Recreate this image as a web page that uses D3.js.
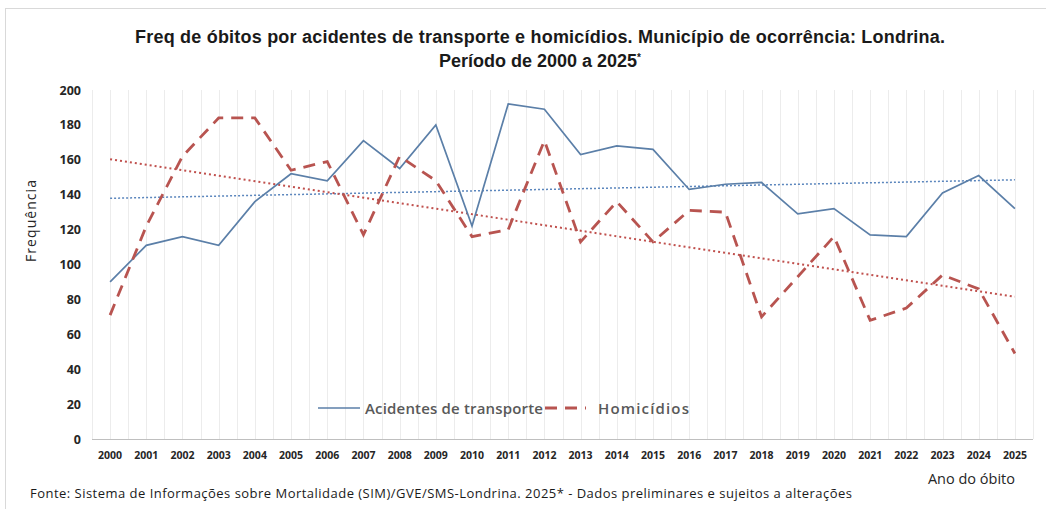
<!DOCTYPE html>
<html><head><meta charset="utf-8">
<script src="https://cdn.jsdelivr.net/npm/d3@7"></script>
<style>
body{margin:0;background:#fff;}
svg{display:block;}
</style></head>
<body>
<svg id="c" width="1046" height="509"></svg>
<script>
const years = ["2000","2001","2002","2003","2004","2005","2006","2007","2008","2009","2010","2011","2012","2013","2014","2015","2016","2017","2018","2019","2020","2021","2022","2023","2024","2025"];
const acidentes = [90,111,116,111,136,152,148,171,155,180,122,192,189,163,168,166,143,146,147,129,132,117,116,141,151,132];
const homicidios = [71,122,162,184,184,154,159,117,162,148,116,120,171,113,136,113,131,130,70,93,116,68,75,94,86,49];
const yTicks = [0,20,40,60,80,100,120,140,160,180,200];
const seriesNames = ["Acidentes de transporte","Homicídios"];

const svg = d3.select("#c");
const W = 1046, H = 509;
const m = {l:92, r:1033, t:90, b:439};
const font = "'Liberation Sans Narrow','Liberation Sans',Arial,sans-serif";
const font2 = "'Open Sans','Noto Sans',sans-serif";

// chart border
svg.append("rect").attr("x",5.5).attr("y",8.5).attr("width",W+10).attr("height",H+10)
  .attr("fill","none").attr("stroke","#d9d9d9").attr("stroke-width",1);

const x = d3.scaleBand().domain(years).range([m.l,m.r]);
const y = d3.scaleLinear().domain([0,200]).range([m.b,m.t]);
const cx = d => x(d)+x.bandwidth()/2;

// vertical gridlines (edges and centers)
const gx = [];
years.forEach(yr=>{gx.push(x(yr)); gx.push(cx(yr));});
gx.push(m.r);
svg.append("g").selectAll("line").data(gx).join("line")
  .attr("x1",d=>Math.round(d)+0.5).attr("x2",d=>Math.round(d)+0.5)
  .attr("y1",m.t).attr("y2",m.b)
  .attr("stroke","#ececec").attr("stroke-width",1);

// x axis line
svg.append("line").attr("x1",m.l).attr("x2",m.r).attr("y1",m.b+0.5).attr("y2",m.b+0.5)
  .attr("stroke","#bfbfbf");

// y ticks
const yAxis = d3.axisLeft(y).tickValues(yTicks).tickSize(0).tickPadding(0);
const ga = svg.append("g").attr("transform",`translate(81,0)`).call(yAxis);
ga.select(".domain").remove();
ga.selectAll("text").attr("font-family",font2).attr("font-weight","bold").attr("font-size",12.5).attr("fill","#262626");

// x ticks
const xAxis = d3.axisBottom(x).tickSize(0).tickPadding(0);
const gb = svg.append("g").attr("transform",`translate(0,452)`).call(xAxis);
gb.select(".domain").remove();
gb.selectAll("text").attr("font-family",font2).attr("font-weight","bold").attr("font-size",10.5).attr("fill","#262626");

// trend lines (least squares)
function trend(vals){
  const n=vals.length; const xs=d3.range(n);
  const mx=d3.mean(xs), my=d3.mean(vals);
  let sxy=0,sxx=0; xs.forEach((xi,i)=>{sxy+=(xi-mx)*(vals[i]-my);sxx+=(xi-mx)*(xi-mx);});
  const b=sxy/sxx, a=my-b*mx;
  return [a, a+b*(n-1)];
}
const line = d3.line().x((d,i)=>cx(years[i])).y(d=>y(d));

const tA = trend(acidentes), tH = trend(homicidios);
svg.append("line").attr("x1",cx(years[0])).attr("x2",cx(years[years.length-1]))
  .attr("y1",y(tA[0])).attr("y2",y(tA[1]))
  .attr("stroke","#5b86bd").attr("stroke-width",1.5).attr("stroke-dasharray","2,2");
svg.append("line").attr("x1",cx(years[0])).attr("x2",cx(years[years.length-1]))
  .attr("y1",y(tH[0])).attr("y2",y(tH[1]))
  .attr("stroke","#c0504d").attr("stroke-width",2).attr("stroke-dasharray","2,3");

svg.append("path").datum(acidentes).attr("d",line).attr("fill","none")
  .attr("stroke","#5b7fa8").attr("stroke-width",1.7);
svg.append("path").datum(homicidios).attr("d",line).attr("fill","none")
  .attr("stroke","#b85450").attr("stroke-width",2.8).attr("stroke-dasharray","12,8");

// legend
const lg = svg.append("g");
lg.append("line").attr("x1",318).attr("x2",360).attr("y1",408).attr("y2",408).attr("stroke","#5b7fa8").attr("stroke-width",1.7);
lg.append("text").attr("x",365).attr("y",413.5).text(seriesNames[0]).attr("textLength",178)
  .attr("font-family",font2).attr("font-size",15).attr("font-weight",600).attr("fill","#595959");
lg.append("line").attr("x1",545).attr("x2",586).attr("y1",408).attr("y2",408).attr("stroke","#b85450").attr("stroke-width",2.8).attr("stroke-dasharray","12,8");
lg.append("text").attr("x",598).attr("y",413.5).text(seriesNames[1]).attr("textLength",91)
  .attr("font-family",font2).attr("font-size",15).attr("font-weight",600).attr("fill","#595959");

// title
svg.append("text").attr("x",540).attr("y",43).attr("text-anchor","middle").attr("textLength",810)
  .attr("font-family",font).attr("font-weight","bold").attr("font-size",18).attr("fill","#1a1a1a")
  .text("Freq de óbitos por acidentes de transporte e homicídios. Município de ocorrência: Londrina.");
const t2 = svg.append("text").attr("x",540).attr("y",67).attr("text-anchor","middle")
  .attr("font-family",font).attr("font-weight","bold").attr("font-size",18).attr("fill","#1a1a1a");
t2.append("tspan").text("Período de 2000 a 2025");
t2.append("tspan").text("*").attr("font-size",10).attr("dy",-6);

// axis titles
svg.append("text").attr("transform","translate(36,221) rotate(-90)").attr("text-anchor","middle")
  .attr("font-family",font2).attr("font-size",14).attr("fill","#262626").attr("textLength",82).text("Frequência");
svg.append("text").attr("x",1015).attr("y",484).attr("text-anchor","end")
  .attr("font-family",font2).attr("font-size",14.5).attr("fill","#262626").text("Ano do óbito");

// footer
svg.append("text").attr("x",30).attr("y",498).attr("textLength",822)
  .attr("font-family",font2).attr("font-size",13).attr("fill","#1a1a1a")
  .text("Fonte: Sistema de Informações sobre Mortalidade (SIM)/GVE/SMS-Londrina. 2025* - Dados preliminares e sujeitos a alterações");
</script>
</body></html>
